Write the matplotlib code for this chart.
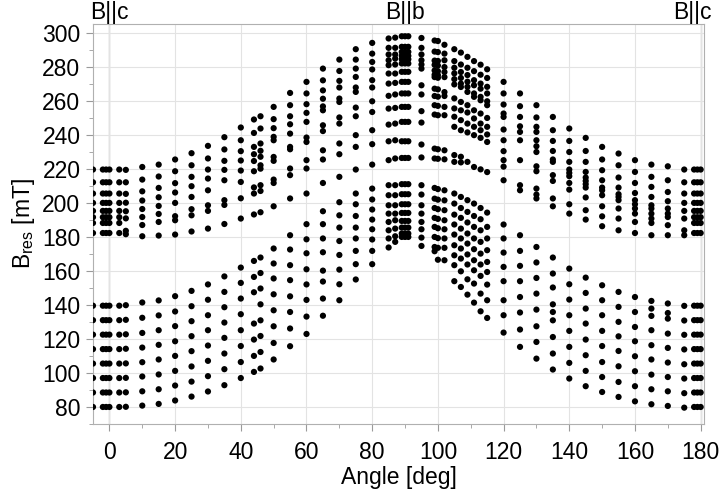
import numpy as np
import matplotlib
matplotlib.use("Agg")
import matplotlib.pyplot as plt
from matplotlib.ticker import MultipleLocator

plt.rcParams['font.family'] = ['Liberation Sans', 'DejaVu Sans']

# angles (deg) of each measured spectrum
angles = [-5, -2, -1, 0, 3, 5, 10, 15, 20, 25, 30, 35, 40, 44, 46, 50, 55, 60,
          65, 70, 75, 80, 85, 87, 89, 90, 91, 95, 99, 100, 102, 105, 107, 109,
          111, 113, 115, 120, 125, 130, 135, 140, 145, 150, 155, 160, 165, 170,
          175, 178, 179, 180]

c_up = [219.5, 212.0, 205.4, 199.9, 195.2, 191.5, 188.1, 182.2]
c_lo = [139.5, 131.0, 122.5, 114.0, 105.5, 97.0, 88.5, 80.0]
b_up = [297.8, 291.6, 288.6, 286.3, 284.3, 281.8, 276.9, 271.0, 264.2, 256.3, 247.5, 236.1, 226.3]
b_lo = [210.9, 205.0, 199.1, 194.0, 189.3, 185.4, 181.9, 179.9]

# upper group of resonance lines (mT)
upper = [
    c_up, c_up, c_up, c_up, c_up,
    [219.3, 212.0, 205.2, 200.0, 195.0, 190.8, 183.5, 181.5],
    [221.0, 213.6, 206.7, 201.3, 196.3, 191.6, 186.9, 180.3],
    [222.4, 215.4, 208.7, 203.2, 198.1, 193.4, 188.7, 180.7],
    [225.4, 218.5, 211.5, 206.0, 199.9, 192.1, 189.7, 181.3],
    [229.1, 222.0, 215.2, 209.7, 203.4, 196.2, 192.6, 183.1],
    [233.4, 226.0, 219.5, 214.2, 207.3, 198.5, 195.2, 184.8],
    [238.5, 231.3, 224.6, 219.3, 213.2, 201.5, 198.7, 187.5],
    [244.2, 236.7, 230.3, 224.8, 218.9, 212.2, 202.6, 190.7],
    [248.9, 241.0, 232.8, 228.5, 224.5, 218.5, 209.0, 205.4, 193.1],
    [250.8, 243.6, 234.8, 230.5, 227.0, 222.0, 220.0, 210.3, 206.9, 194.4],
    [256.3, 249.1, 243.8, 238.7, 236.7, 226.9, 224.6, 213.6, 211.6, 197.9],
    [264.5, 257.3, 250.8, 246.1, 240.6, 232.8, 231.4, 220.1, 216.2, 202.5],
    [271.0, 264.2, 257.9, 252.8, 247.5, 238.3, 235.7, 225.0, 220.1, 205.4],
    [278.8, 271.9, 266.0, 261.1, 256.6, 254.3, 245.5, 242.1, 230.8, 225.4, 211.6, 195.0],
    [284.1, 277.4, 271.6, 267.7, 261.2, 259.2, 250.1, 246.5, 234.8, 228.5, 215.2, 200.3],
    [290.2, 284.1, 278.8, 273.9, 267.7, 265.1, 255.9, 250.8, 239.7, 232.8, 219.5, 205.4],
    [293.9, 287.6, 282.7, 278.3, 272.0, 267.7, 259.6, 253.3, 242.6, 234.4, 222.4],
    [296.5, 291.0, 287.1, 283.7, 280.8, 275.9, 270.0, 262.8, 255.3, 245.9, 236.1, 225.0],
    [297.0, 291.0, 287.1, 284.7, 281.2, 275.9, 270.4, 263.6, 255.7, 246.5, 236.7, 226.0],
    b_up, b_up, b_up,
    [296.8, 291.0, 287.1, 283.7, 281.2, 278.8, 269.0, 263.6, 253.8, 247.1, 234.2, 226.6],
    [295.3, 288.8, 283.5, 281.0, 277.7, 275.2, 273.8, 267.0, 262.7, 257.3, 251.8, 231.8, 226.0],
    [295.0, 288.5, 283.3, 280.6, 277.3, 275.0, 273.4, 266.6, 262.3, 256.9, 251.4, 231.4, 225.8],
    [292.8, 287.6, 283.7, 279.7, 276.8, 273.8, 265.0, 262.7, 256.3, 251.4, 230.8, 225.5],
    [290.2, 283.2, 279.3, 276.0, 272.6, 269.5, 261.3, 255.4, 250.5, 244.6, 228.0, 224.0],
    [288.2, 281.2, 276.8, 273.3, 270.0, 268.0, 259.2, 254.3, 248.5, 242.6, 227.0, 223.7],
    [285.7, 279.3, 275.0, 271.1, 268.1, 265.1, 257.3, 253.0, 246.5, 241.3, 224.0],
    [283.2, 277.3, 272.0, 269.0, 264.2, 262.2, 254.3, 249.5, 244.6, 239.7, 221.0],
    [281.1, 275.2, 270.0, 267.0, 262.2, 260.2, 252.4, 246.5, 242.6, 238.1, 219.6],
    [278.4, 273.3, 268.1, 264.2, 259.6, 257.3, 249.8, 244.6, 240.1, 235.7, 218.0],
    [271.0, 264.2, 257.7, 252.4, 250.4, 243.0, 236.7, 230.3, 225.0, 221.2, 213.2],
    [264.2, 256.7, 250.4, 244.9, 241.6, 236.7, 225.0, 210.3, 207.3],
    [257.3, 250.1, 244.6, 241.6, 236.7, 233.2, 229.8, 221.4, 218.5, 208.3, 204.8, 202.5],
    [250.4, 242.6, 236.3, 230.4, 225.4, 224.0, 216.2, 212.8, 202.5, 197.9],
    [243.6, 236.3, 229.8, 224.0, 219.5, 217.5, 215.6, 211.6, 207.7, 199.1, 193.6],
    [238.1, 230.4, 224.0, 218.1, 214.8, 212.8, 210.9, 208.9, 203.1, 195.6, 190.1],
    [232.8, 225.4, 219.1, 213.2, 208.9, 207.3, 204.4, 197.9, 192.0, 186.2],
    [228.9, 222.0, 214.8, 208.9, 205.0, 203.4, 201.5, 196.6, 190.7, 183.8],
    [225.0, 218.1, 211.6, 205.7, 201.5, 199.1, 196.6, 193.6, 188.7, 182.2],
    [222.4, 215.2, 209.3, 203.4, 198.5, 196.6, 193.6, 190.7, 188.1, 180.9],
    [221.4, 213.2, 206.3, 200.9, 196.6, 193.6, 191.6, 186.8, 180.9],
    [219.5, 212.0, 205.4, 199.9, 195.2, 190.7, 183.8, 180.9],
    c_up, c_up, c_up,
]

# lower group of resonance lines (mT)
lower = [
    c_lo, c_lo, c_lo, c_lo, c_lo,
    [139.8, 131.2, 122.7, 114.2, 105.6, 97.1, 88.6, 80.1],
    [141.4, 132.4, 123.5, 114.9, 106.3, 97.9, 89.2, 80.8],
    [142.6, 133.8, 125.1, 116.5, 107.9, 99.1, 90.4, 81.8],
    [145.1, 136.1, 127.5, 118.6, 110.0, 101.2, 92.6, 83.8],
    [148.2, 139.2, 130.4, 121.6, 112.8, 103.8, 94.9, 86.1],
    [152.0, 143.0, 133.9, 125.1, 116.1, 107.1, 98.1, 89.1],
    [156.7, 147.6, 138.6, 129.6, 120.6, 111.4, 102.2, 92.8],
    [161.9, 152.9, 143.7, 134.5, 125.1, 115.8, 106.4, 97.0],
    [165.8, 156.4, 147.4, 129.0, 119.6, 110.0, 100.6],
    [167.8, 158.7, 149.6, 140.3, 130.9, 121.7, 112.3, 102.6],
    [173.1, 164.3, 155.5, 146.2, 136.8, 127.4, 117.6, 107.9],
    [180.9, 172.5, 163.3, 154.5, 145.0, 135.8, 126.1, 115.7],
    [187.4, 178.5, 170.3, 160.9, 152.0, 142.9, 133.1, 122.9],
    [187.4, 179.0, 170.9, 160.1, 153.7, 143.7, 133.6],
    [192.6, 185.4, 177.5, 169.3, 160.7, 152.1, 142.7],
    [199.1, 192.2, 185.4, 179.0, 171.7, 163.9, 154.9],
    [208.3, 201.9, 196.0, 190.1, 184.4, 178.4, 171.7, 163.9],
    [210.3, 204.4, 198.5, 193.6, 188.7, 183.8, 179.0, 173.7],
    [210.3, 204.4, 198.5, 193.6, 189.7, 184.8, 180.3, 177.0],
    b_lo, b_lo, b_lo,
    [210.3, 204.8, 198.5, 193.6, 188.7, 184.4, 179.5, 174.6],
    [208.7, 202.4, 196.9, 191.1, 185.8, 179.9, 174.0, 171.5],
    [208.0, 201.8, 196.2, 190.5, 185.0, 179.2, 173.5, 166.5],
    [207.3, 201.4, 195.6, 189.7, 184.4, 179.0, 173.5, 166.2],
    [205.4, 199.5, 193.0, 187.2, 181.3, 175.0, 169.1, 163.3, 153.9],
    [203.4, 196.9, 191.1, 184.8, 179.0, 173.1, 167.2, 159.7, 150.5],
    [201.5, 194.6, 188.4, 181.9, 176.0, 169.6, 163.7, 155.0, 146.0],
    [199.5, 192.2, 185.8, 179.0, 172.7, 166.2, 160.3, 152.5, 141.3],
    [196.9, 190.3, 183.8, 177.0, 170.1, 163.7, 157.0, 146.6, 136.2],
    [194.2, 185.8, 179.0, 172.1, 165.2, 159.3, 151.9, 142.7, 132.3],
    [187.2, 179.0, 170.7, 162.3, 153.9, 142.7, 133.9, 123.7],
    [180.9, 171.7, 162.9, 153.9, 144.6, 135.5, 125.5, 115.3],
    [174.0, 164.9, 155.8, 146.6, 137.2, 127.4, 118.2, 108.4],
    [167.8, 158.4, 150.2, 140.3, 135.8, 130.9, 121.1, 111.4, 102.0],
    [161.3, 152.1, 143.1, 133.9, 124.7, 115.3, 105.9, 96.7],
    [156.0, 147.0, 137.8, 129.0, 119.6, 110.4, 101.2, 92.2],
    [151.5, 142.7, 133.9, 124.7, 115.8, 106.4, 97.6, 88.8],
    [147.6, 138.8, 130.0, 121.5, 112.9, 103.9, 94.7, 85.9],
    [144.6, 135.8, 127.0, 118.6, 109.8, 101.0, 92.2, 83.3],
    [142.3, 137.8, 133.5, 125.1, 116.3, 107.9, 99.0, 90.4, 81.6],
    [140.8, 135.2, 131.9, 123.1, 114.7, 106.1, 97.6, 89.2, 80.6],
    [139.4, 130.8, 122.4, 113.8, 105.1, 96.7, 88.1, 79.6],
    c_lo, c_lo, c_lo,
]

x, y = [], []
for a, u, l in zip(angles, upper, lower):
    for v in u + l:
        x.append(a)
        y.append(v)

fig = plt.figure(figsize=(7.22, 4.97), dpi=100)
ax = fig.add_axes([0.1288, 0.1469, 0.8462, 0.8048])

ax.grid(True, which='major', color='#e3e3e3', lw=0.8, zorder=0)
ax.axvline(0, color='#9a9a9a', lw=0.9, zorder=1)
ax.axvline(180, color='#9a9a9a', lw=0.9, zorder=1)
ax.scatter(x, y, s=20, c='black', edgecolors='none', zorder=3)

ax.set_xlim(-5, 181)
ax.set_ylim(70, 305)
ax.xaxis.set_major_locator(MultipleLocator(20))
ax.xaxis.set_minor_locator(MultipleLocator(10))
ax.yaxis.set_major_locator(MultipleLocator(20))
ax.yaxis.set_minor_locator(MultipleLocator(10))
ax.tick_params(which='both', direction='out', color='#9a9a9a', labelsize=16.5)
ax.tick_params(which='major', length=5)
ax.tick_params(which='minor', length=3)
ax.tick_params(axis='x', pad=7)
ax.tick_params(axis='y', pad=4)
for s in ax.spines.values():
    s.set_color('#b0b0b0')

ax.set_xlabel('Angle [deg]', fontsize=16.5, labelpad=2)
ax.set_ylabel(r'B$_{\mathregular{res}}$ [mT]', fontsize=16.5, labelpad=4)

for pos, lab in [(0, 'B||c'), (90, 'B||b'), (177.5, 'B||c')]:
    ax.text(pos, 1.0, lab, transform=ax.get_xaxis_transform(),
            ha='center', va='bottom', fontsize=16.5)

fig.savefig('out.png', dpi=100)
